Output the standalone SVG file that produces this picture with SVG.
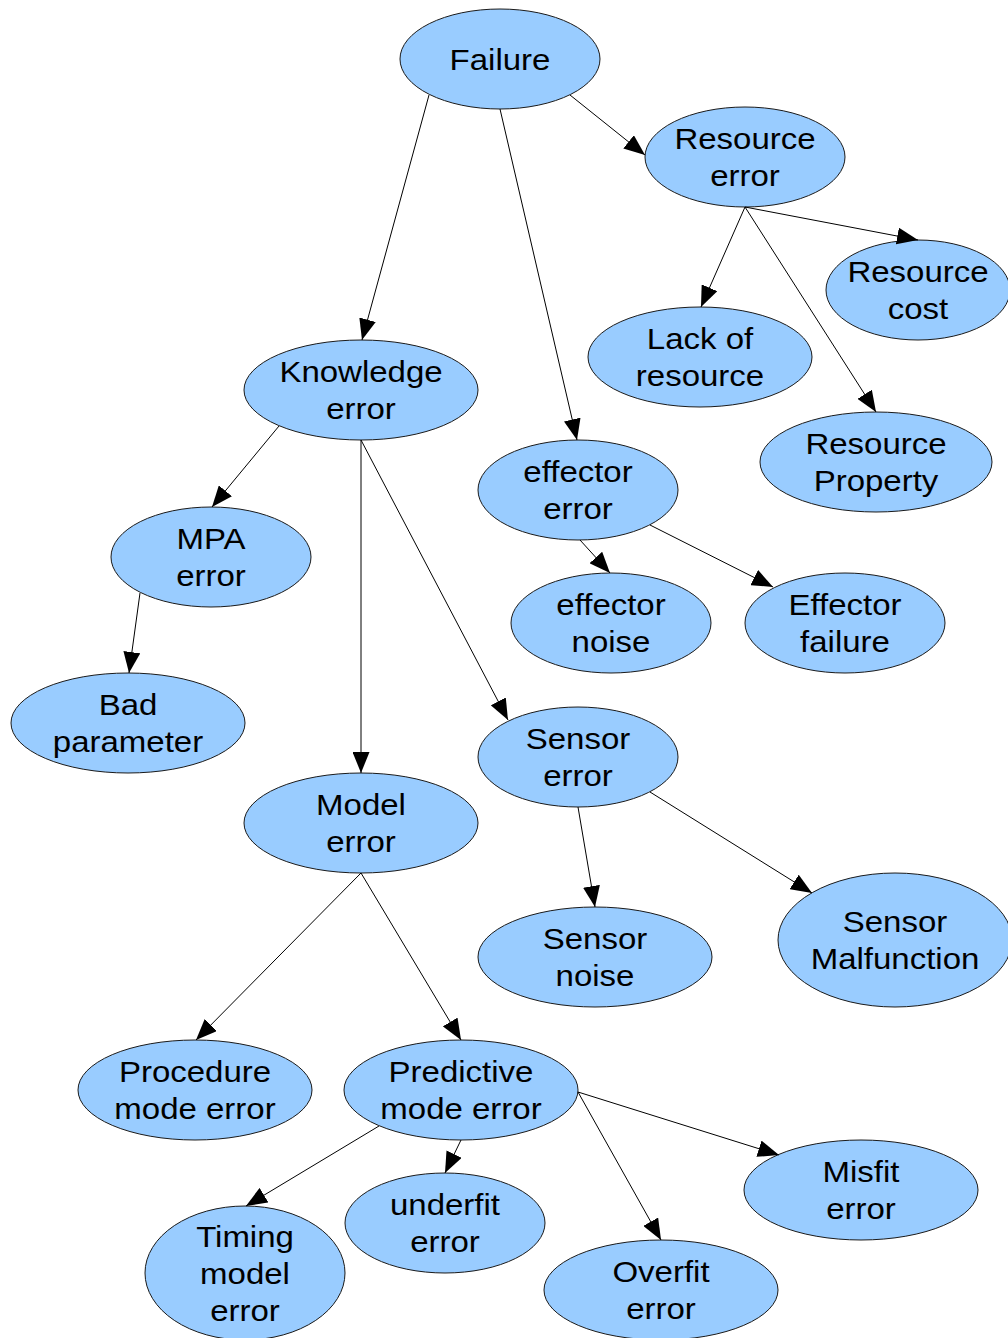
<svg xmlns="http://www.w3.org/2000/svg" width="1008" height="1338" viewBox="0 0 1008 1338">
  <style>
    .node ellipse { fill: #99ccff; stroke: #1a1a1a; stroke-width: 1; }
    .node text { font-family: "Liberation Sans", Arial, sans-serif; font-size: 30px; fill: #000; text-anchor: middle; }
    .edges line { stroke: #000; stroke-width: 1; marker-end: url(#arrow); }
  </style>
  <defs>
    <marker id="arrow" markerUnits="userSpaceOnUse" markerWidth="21" markerHeight="17" refX="21" refY="8.5" orient="auto">
      <path d="M0,0 L21,8.5 L0,17 z" fill="#000"/>
    </marker>
  </defs>
  <rect width="1008" height="1338" fill="#fff"/>

  <!-- nodes -->
  <g id="failure" class="node">
    <ellipse cx="500" cy="59" rx="100" ry="50"/>
    <text transform="translate(500 70) scale(1.1 1)">Failure</text>
  </g>
  <g id="resource-error" class="node">
    <ellipse cx="745" cy="157" rx="100" ry="50"/>
    <text transform="translate(745 149) scale(1.1 1)"><tspan x="0">Resource</tspan><tspan x="0" dy="37">error</tspan></text>
  </g>
  <g id="resource-cost" class="node">
    <ellipse cx="918" cy="290" rx="92" ry="50"/>
    <text transform="translate(918 282) scale(1.1 1)"><tspan x="0">Resource</tspan><tspan x="0" dy="37">cost</tspan></text>
  </g>
  <g id="lack-of-resource" class="node">
    <ellipse cx="700" cy="357" rx="112" ry="50"/>
    <text transform="translate(700 349) scale(1.1 1)"><tspan x="0">Lack of</tspan><tspan x="0" dy="37">resource</tspan></text>
  </g>
  <g id="resource-property" class="node">
    <ellipse cx="876" cy="462" rx="116" ry="50"/>
    <text transform="translate(876 454) scale(1.1 1)"><tspan x="0">Resource</tspan><tspan x="0" dy="37">Property</tspan></text>
  </g>
  <g id="knowledge-error" class="node">
    <ellipse cx="361" cy="390" rx="117" ry="50"/>
    <text transform="translate(361 382) scale(1.1 1)"><tspan x="0">Knowledge</tspan><tspan x="0" dy="37">error</tspan></text>
  </g>
  <g id="effector-error" class="node">
    <ellipse cx="578" cy="490" rx="100" ry="50"/>
    <text transform="translate(578 482) scale(1.1 1)"><tspan x="0">effector</tspan><tspan x="0" dy="37">error</tspan></text>
  </g>
  <g id="mpa-error" class="node">
    <ellipse cx="211" cy="557" rx="100" ry="50"/>
    <text transform="translate(211 549) scale(1.1 1)"><tspan x="0">MPA</tspan><tspan x="0" dy="37">error</tspan></text>
  </g>
  <g id="effector-noise" class="node">
    <ellipse cx="611" cy="623" rx="100" ry="50"/>
    <text transform="translate(611 615) scale(1.1 1)"><tspan x="0">effector</tspan><tspan x="0" dy="37">noise</tspan></text>
  </g>
  <g id="effector-failure" class="node">
    <ellipse cx="845" cy="623" rx="100" ry="50"/>
    <text transform="translate(845 615) scale(1.1 1)"><tspan x="0">Effector</tspan><tspan x="0" dy="37">failure</tspan></text>
  </g>
  <g id="bad-parameter" class="node">
    <ellipse cx="128" cy="723" rx="117" ry="50"/>
    <text transform="translate(128 715) scale(1.1 1)"><tspan x="0">Bad</tspan><tspan x="0" dy="37">parameter</tspan></text>
  </g>
  <g id="sensor-error" class="node">
    <ellipse cx="578" cy="757" rx="100" ry="50"/>
    <text transform="translate(578 749) scale(1.1 1)"><tspan x="0">Sensor</tspan><tspan x="0" dy="37">error</tspan></text>
  </g>
  <g id="model-error" class="node">
    <ellipse cx="361" cy="823" rx="117" ry="50"/>
    <text transform="translate(361 815) scale(1.1 1)"><tspan x="0">Model</tspan><tspan x="0" dy="37">error</tspan></text>
  </g>
  <g id="sensor-noise" class="node">
    <ellipse cx="595" cy="957" rx="117" ry="50"/>
    <text transform="translate(595 949) scale(1.1 1)"><tspan x="0">Sensor</tspan><tspan x="0" dy="37">noise</tspan></text>
  </g>
  <g id="sensor-malfunction" class="node">
    <ellipse cx="895" cy="940" rx="117" ry="67"/>
    <text transform="translate(895 932) scale(1.1 1)"><tspan x="0">Sensor</tspan><tspan x="0" dy="37">Malfunction</tspan></text>
  </g>
  <g id="procedure-mode-error" class="node">
    <ellipse cx="195" cy="1090" rx="117" ry="50"/>
    <text transform="translate(195 1082) scale(1.1 1)"><tspan x="0">Procedure</tspan><tspan x="0" dy="37">mode error</tspan></text>
  </g>
  <g id="predictive-mode-error" class="node">
    <ellipse cx="461" cy="1090" rx="117" ry="50"/>
    <text transform="translate(461 1082) scale(1.1 1)"><tspan x="0">Predictive</tspan><tspan x="0" dy="37">mode error</tspan></text>
  </g>
  <g id="misfit-error" class="node">
    <ellipse cx="861" cy="1190" rx="117" ry="50"/>
    <text transform="translate(861 1182) scale(1.1 1)"><tspan x="0">Misfit</tspan><tspan x="0" dy="37">error</tspan></text>
  </g>
  <g id="underfit-error" class="node">
    <ellipse cx="445" cy="1223" rx="100" ry="50"/>
    <text transform="translate(445 1215) scale(1.1 1)"><tspan x="0">underfit</tspan><tspan x="0" dy="37">error</tspan></text>
  </g>
  <g id="timing-model-error" class="node">
    <ellipse cx="245" cy="1273" rx="100" ry="67"/>
    <text transform="translate(245 1247) scale(1.1 1)"><tspan x="0">Timing</tspan><tspan x="0" dy="37">model</tspan><tspan x="0" dy="37">error</tspan></text>
  </g>
  <g id="overfit-error" class="node">
    <ellipse cx="661" cy="1290" rx="117" ry="50"/>
    <text transform="translate(661 1282) scale(1.1 1)"><tspan x="0">Overfit</tspan><tspan x="0" dy="37">error</tspan></text>
  </g>

  <!-- connectors -->
  <g id="edges" class="edges">
    <line x1="429" y1="95" x2="362" y2="340"/>
    <line x1="500" y1="109" x2="577" y2="440"/>
    <line x1="570" y1="95" x2="645" y2="155"/>
    <line x1="745" y1="207" x2="701" y2="307"/>
    <line x1="745" y1="207" x2="918" y2="240"/>
    <line x1="745" y1="207" x2="876" y2="412"/>
    <line x1="279" y1="426" x2="212" y2="507"/>
    <line x1="361" y1="440" x2="361" y2="773"/>
    <line x1="361" y1="440" x2="508" y2="720"/>
    <line x1="140" y1="593" x2="129" y2="673"/>
    <line x1="580" y1="540" x2="610" y2="573"/>
    <line x1="650" y1="525" x2="773" y2="587"/>
    <line x1="578" y1="807" x2="595" y2="907"/>
    <line x1="650" y1="792" x2="812" y2="893"/>
    <line x1="361" y1="873" x2="196" y2="1040"/>
    <line x1="361" y1="873" x2="461" y2="1040"/>
    <line x1="379" y1="1126" x2="246" y2="1206"/>
    <line x1="461" y1="1140" x2="445" y2="1173"/>
    <line x1="578" y1="1092" x2="661" y2="1240"/>
    <line x1="578" y1="1092" x2="779" y2="1155"/>
  </g>
</svg>
